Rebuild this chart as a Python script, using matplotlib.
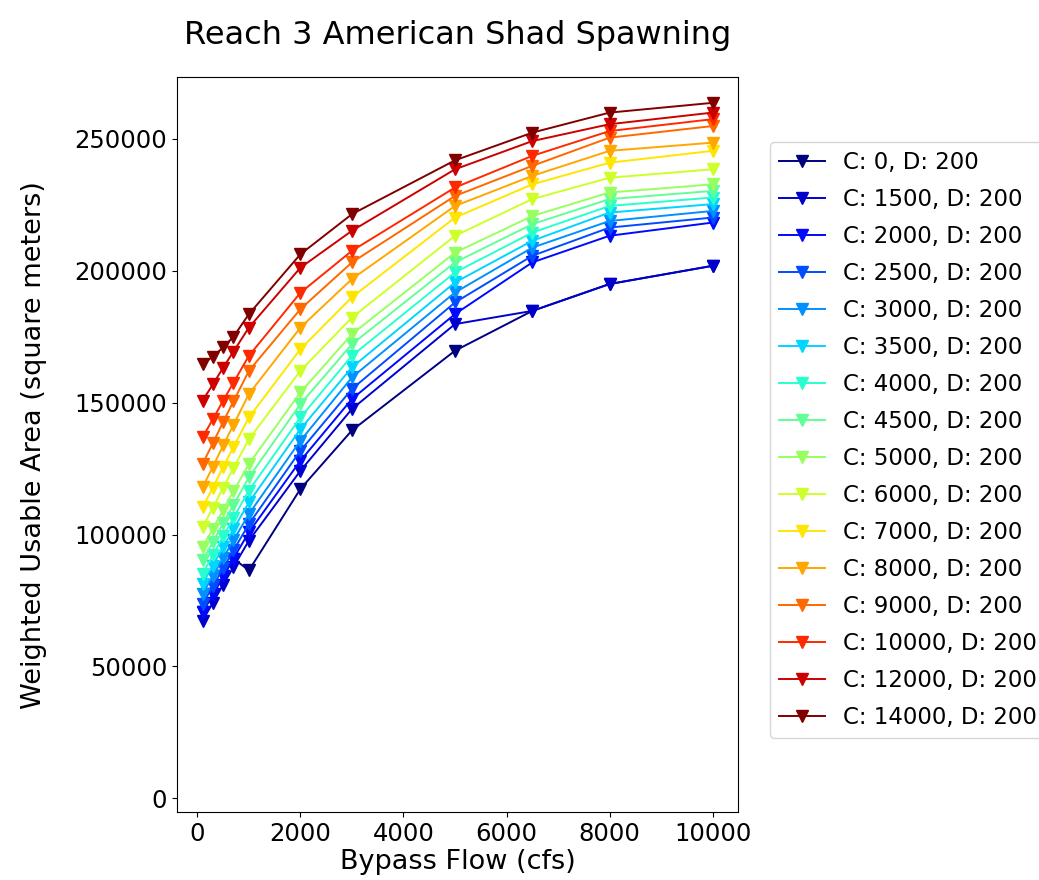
import numpy as np
import matplotlib
matplotlib.use("Agg")
import matplotlib.pyplot as plt

# bypass flow values (cfs)
flows = [100, 300, 500, 700, 1000, 2000, 3000, 5000, 6500, 8000, 10000]

# powerhouse flows for each curve
c_flows = [0, 1500, 2000, 2500, 3000, 3500, 4000, 4500, 5000, 6000, 7000, 8000, 9000, 10000, 12000, 14000]

# weighted usable area, thousands of square meters
wua_c0 = [70.6, 77.3, 84.2, 90.9, 86.4, 117.3, 139.5, 169.7, 184.8, 195.0, 201.9]
wua_c1500 = [67.4, 74.1, 81.0, 87.7, 97.7, 124.2, 147.6, 179.8, 184.8, 195.0, 201.9]
wua_c2000 = [70.6, 77.3, 84.2, 90.9, 100.9, 128.0, 151.4, 183.6, 203.2, 213.3, 218.3]
wua_c2500 = [73.7, 80.4, 87.3, 94.0, 104.0, 131.8, 155.2, 188.0, 205.7, 216.4, 220.2]
wua_c3000 = [77.6, 84.2, 91.2, 97.8, 107.8, 135.6, 159.6, 191.8, 208.8, 218.9, 222.7]
wua_c3500 = [81.4, 88.2, 95.3, 102.0, 112.2, 140.0, 163.4, 195.6, 211.4, 222.1, 225.3]
wua_c4000 = [85.2, 92.1, 99.4, 106.3, 116.7, 144.4, 167.8, 199.4, 214.5, 224.6, 227.8]
wua_c4500 = [90.2, 97.1, 104.4, 111.3, 121.7, 149.5, 172.2, 203.2, 217.7, 227.2, 230.3]
wua_c5000 = [95.2, 102.2, 109.4, 116.4, 126.8, 153.9, 176.0, 206.9, 220.8, 229.7, 232.8]
wua_c6000 = [102.8, 110.1, 117.8, 125.2, 136.2, 162.1, 182.3, 213.3, 227.2, 235.3, 238.5]
wua_c7000 = [110.3, 117.8, 125.6, 133.2, 144.4, 170.3, 190.0, 220.2, 232.8, 241.0, 245.5]
wua_c8000 = [117.9, 125.7, 133.8, 141.6, 153.3, 178.5, 196.9, 224.6, 236.0, 245.5, 248.6]
wua_c9000 = [126.8, 134.6, 142.7, 150.5, 162.1, 185.5, 203.2, 228.4, 239.8, 250.5, 254.9]
wua_c10000 = [136.9, 143.7, 150.8, 157.6, 167.8, 191.7, 207.6, 231.6, 243.6, 253.0, 257.5]
wua_c12000 = [150.8, 156.9, 163.3, 169.4, 178.5, 201.2, 215.2, 238.5, 249.2, 255.6, 260.0]
wua_c14000 = [164.6, 167.5, 171.0, 175.0, 183.6, 206.3, 221.5, 241.9, 252.4, 260.0, 263.7]

series = [wua_c0, wua_c1500, wua_c2000, wua_c2500, wua_c3000, wua_c3500, wua_c4000, wua_c4500,
          wua_c5000, wua_c6000, wua_c7000, wua_c8000, wua_c9000, wua_c10000, wua_c12000, wua_c14000]

plt.rcParams['font.family'] = ['DejaVu Sans']
plt.rcParams['font.size'] = 17.5

fig = plt.figure(figsize=(10.39, 8.8), dpi=100)
ax = fig.add_axes([0.1704, 0.077, 0.54, 0.8355])

colors = plt.cm.jet(np.linspace(0, 1, len(c_flows)))
for c, vals, col in zip(c_flows, series, colors):
    ax.plot(flows, np.array(vals) * 1000, marker='v', color=col, lw=1.4, ms=9,
            label='C: %d, D: 200' % c)

ax.set_ylim(-5300, 273500)
ax.set_xticks([0, 2000, 4000, 6000, 8000, 10000])
ax.set_yticks([0, 50000, 100000, 150000, 200000, 250000])
ax.set_xlabel('Bypass Flow (cfs)', fontsize=19.5, labelpad=2)
ax.set_ylabel('Weighted Usable Area (square meters)', fontsize=19.5, labelpad=20)
ax.set_title('Reach 3 American Shad Spawning', fontsize=23, pad=24)

fig.legend(loc='center left', bbox_to_anchor=(0.741, 0.5), borderaxespad=0,
           fontsize=16.5, labelspacing=0.61, handlelength=2.0)

fig.savefig('out.png', dpi=100)
